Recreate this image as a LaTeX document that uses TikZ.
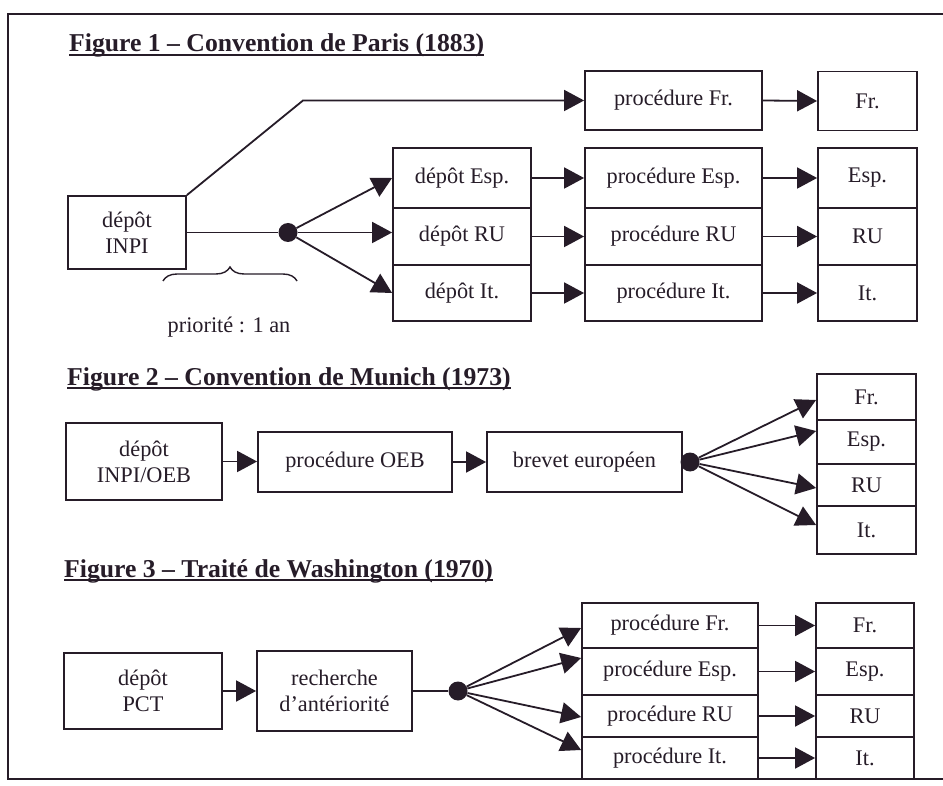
\documentclass[tikz,border=0pt]{standalone}
\usepackage{fontspec}
\setmainfont{Liberation Serif}
\usetikzlibrary{arrows.meta,decorations.pathreplacing,calc}
\definecolor{ink}{RGB}{38,28,40}
\newcommand\bodyfont{\fontsize{22.3}{26}\selectfont}
\newcommand\titlefont{\fontsize{25.7}{30}\selectfont\bfseries}
\begin{document}
\begin{tikzpicture}[x=1pt,y=-1pt,
  box/.style={draw=ink, line width=1.8pt, inner sep=0pt, align=center, font=\bodyfont, text=ink},
  arr/.style={draw=ink, line width=1.8pt, -{Triangle[length=20pt,width=21pt]}},
  ln/.style={draw=ink, line width=1.8pt},
  dotnode/.style={circle, fill=ink, minimum size=19pt, inner sep=0pt},
  ttl/.style={anchor=base west, inner sep=0pt, font=\titlefont, text=ink},
  uline/.style={draw=ink, line width=1.5pt},
  lbl/.style={inner sep=0pt, font=\bodyfont, text=ink}]
\useasboundingbox (0,0) rectangle (943,786);
\fill[white] (0,0) rectangle (943,786);
% frame
\coordinate (fa) at (943,14);
\coordinate (fb) at (8,14);
\coordinate (fc) at (8,779);
\coordinate (fd) at (943,779);
\draw[ln] (fa) -- (fb) -- (fc) -- (fd);

% ---------- Figure 1 ----------
\node[ttl] (t1) at (69,52) {Figure 1 – Convention de Paris (1883)};
\draw[uline] ([yshift=-3pt]t1.base west) -- ([yshift=-3pt]t1.base east);

\node[box, minimum width=118pt, minimum height=73pt] (inpi) at (127,232.5) {dépôt\\INPI};
\node[box, minimum width=177pt, minimum height=59pt] (pfr) at (673.5,100.5) {procédure Fr.};
\node[box, minimum width=99pt, minimum height=59pt] (cfr) at (867.5,101) {Fr.};

\node[box, minimum width=138pt, minimum height=60pt] (dEsp) at (462,178) {dépôt Esp.};
\node[box, minimum width=138pt, minimum height=57pt] (dRU) at (462,236.5) {dépôt RU};
\node[box, minimum width=138pt, minimum height=56pt] (dIt) at (462,293) {dépôt It.};

\node[box, minimum width=177pt, minimum height=60pt] (pEsp) at (673.5,178) {procédure Esp.};
\node[box, minimum width=177pt, minimum height=57pt] (pRU) at (673.5,236.5) {procédure RU};
\node[box, minimum width=177pt, minimum height=56pt] (pIt) at (673.5,293) {procédure It.};

\node[box, minimum width=99pt, minimum height=60pt] (cEsp) at (867.5,178) {Esp.};
\node[box, minimum width=99pt, minimum height=57pt] (cRU) at (867.5,236.5) {RU};
\node[box, minimum width=99pt, minimum height=56pt] (cIt) at (867.5,293) {It.};

\node[dotnode] (o1) at (288,232.5) {};
\draw[ln] (inpi.east) -- (o1);
\draw[arr] (o1) -- (dEsp.west);
\draw[arr] (o1) -- (o1 -| dRU.west);
\draw[arr] (o1) -- (dIt.west);

\coordinate (k1) at (303,100.5);
\draw[arr] (inpi.north east) -- (k1) -- (pfr.west);
\draw[arr] (pfr.east) -- (cfr.west);

\draw[arr] (dEsp.east) -- (pEsp.west);
\draw[arr] (dRU.east) -- (pRU.west);
\draw[arr] (dIt.east) -- (pIt.west);
\draw[arr] (pEsp.east) -- (cEsp.west);
\draw[arr] (pRU.east) -- (cRU.west);
\draw[arr] (pIt.east) -- (cIt.west);

\coordinate (b1) at (297,281);
\coordinate (b2) at (163,281);
\draw[draw=ink, line width=1.4pt, decorate, decoration={brace, amplitude=14pt}] (b2) -- (b1);
\node[lbl] (prio) at (229,327) {priorité : 1 an};

% ---------- Figure 2 ----------
\node[ttl] (t2) at (67,385) {Figure 2 – Convention de Munich (1973)};
\draw[uline] ([yshift=-3pt]t2.base west) -- ([yshift=-3pt]t2.base east);

\node[box, minimum width=156pt, minimum height=77pt] (inpioeb) at (144,461.5) {dépôt\\INPI/OEB};
\node[box, minimum width=194pt, minimum height=60pt] (poeb) at (355,462) {procédure OEB};
\node[box, minimum width=195pt, minimum height=60pt] (brev) at (584.5,462) {brevet européen};

\node[box, minimum width=99pt, minimum height=46pt] (c2Fr) at (866.5,397) {Fr.};
\node[box, minimum width=99pt, minimum height=44pt] (c2Esp) at (866.5,442) {Esp.};
\node[box, minimum width=99pt, minimum height=42pt] (c2RU) at (866.5,485) {RU};
\node[box, minimum width=99pt, minimum height=48pt] (c2It) at (866.5,530) {It.};

\node[dotnode] (o2) at (690,462) {};
\draw[arr] (inpioeb.east) -- (inpioeb.east -| poeb.west);
\draw[arr] (poeb.east) -- (brev.west);
\draw[arr] (o2) -- (c2Fr.west |- 0,400);
\draw[arr] (o2) -- (c2Esp.west |- 0,431);
\draw[arr] (o2) -- (c2RU.west |- 0,488);
\draw[arr] (o2) -- (c2It.west |- 0,525);

% ---------- Figure 3 ----------
\node[ttl] (t3) at (64,577) {Figure 3 – Traité de Washington (1970)};
\draw[uline] ([yshift=-3pt]t3.base west) -- ([yshift=-3pt]t3.base east);

\node[box, minimum width=158pt, minimum height=76pt] (pct) at (143,691) {dépôt\\PCT};
\node[box, minimum width=155pt, minimum height=80pt] (rech) at (334.5,691) {recherche\\d’antériorité};

\node[box, minimum width=176pt, minimum height=45pt] (q1) at (670,625.5) {procédure Fr.};
\node[box, minimum width=176pt, minimum height=47pt] (q2) at (670,671.5) {procédure Esp.};
\node[box, minimum width=176pt, minimum height=42pt] (q3) at (670,716) {procédure RU};
\node[box, minimum width=176pt, minimum height=42pt] (q4) at (670,758) {procédure It.};

\node[box, minimum width=98pt, minimum height=45pt] (r1) at (865,625.5) {Fr.};
\node[box, minimum width=98pt, minimum height=47pt] (r2) at (865,671.5) {Esp.};
\node[box, minimum width=98pt, minimum height=42pt] (r3) at (865,716) {RU};
\node[box, minimum width=98pt, minimum height=42pt] (r4) at (865,758) {It.};

\node[dotnode] (o3) at (458,691) {};
\draw[arr] (pct.east) -- (pct.east -| rech.west);
\draw[ln] (rech.east) -- (o3);
\draw[arr] (o3) -- (q1.west |- 0,628);
\draw[arr] (o3) -- (q2.west |- 0,658);
\draw[arr] (o3) -- (q3.west |- 0,717);
\draw[arr] (o3) -- (q4.west |- 0,750);

\draw[arr] (q1.east) -- (r1.west);
\draw[arr] (q2.east) -- (r2.west);
\draw[arr] (q3.east) -- (r3.west);
\draw[arr] (q4.east) -- (r4.west);
\end{tikzpicture}
\end{document}
